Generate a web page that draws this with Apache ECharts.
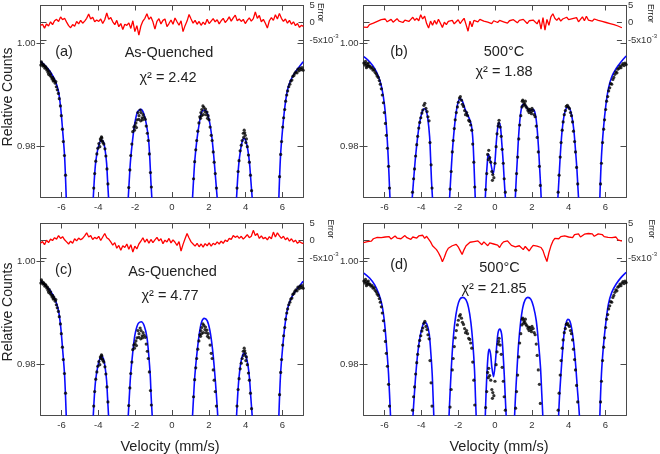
<!DOCTYPE html>
<html><head><meta charset="utf-8">
<script src="https://cdn.jsdelivr.net/npm/echarts@6/dist/echarts.min.js"></script>
<style>html,body{margin:0;padding:0;background:#fff}#c{width:660px;height:454px}</style>
</head><body><div id="c"></div>
<script>
// ---------- tick values ----------
const velocityTicks = [-6, -4, -2, 0, 2, 4, 6];
const countTicks = [0.98, 1.00];
const errorTicks = [-5, 0, 5];

// ---------- measured spectra (velocity mm/s, relative counts) ----------
// As-quenched sample (panels a and c)
const dataAsQuenched = [
[-7.12,0.9958],[-7.09,0.9964],[-7.06,0.9961],[-7.01,0.9956],[-6.98,0.9959],[-6.95,0.9957],[-6.90,0.9952],[-6.87,0.9955],[-6.84,0.9953],[-6.79,0.9948],[-6.76,0.9950],[-6.73,0.9944],[-6.70,0.9940],[-6.67,0.9946],[-6.62,0.9938],[-6.59,0.9941],[-6.56,0.9935],[-6.51,0.9931],[-6.48,0.9934],[-6.45,0.9927],[-6.42,0.9931],[-6.40,0.9928],[-6.34,0.9923],[-6.31,0.9926],[-6.28,0.9916],[-6.23,0.9910],[-6.17,0.9903],[-6.12,0.9893],[-6.06,0.9879],[-6.01,0.9860],[-5.95,0.9834],[-5.90,0.9810],[-5.84,0.9783],[-5.78,0.9745],
[-4.25,0.9720],[-4.20,0.9748],[-4.14,0.9772],[-4.08,0.9786],[-4.03,0.9797],[-3.97,0.9806],[-3.92,0.9800],[-3.89,0.9815],[-3.86,0.9812],[-3.83,0.9819],[-3.81,0.9817],[-3.78,0.9811],[-3.75,0.9808],[-3.70,0.9805],[-3.64,0.9796],[-3.59,0.9782],[-3.53,0.9757],[-3.48,0.9728],
[-2.35,0.9721],[-2.29,0.9755],[-2.24,0.9783],[-2.18,0.9805],[-2.13,0.9829],[-2.07,0.9838],[-2.04,0.9832],[-2.01,0.9841],[-1.96,0.9846],[-1.93,0.9837],[-1.90,0.9852],[-1.85,0.9866],[-1.80,0.9853],[-1.79,0.9860],[-1.73,0.9871],[-1.70,0.9850],[-1.68,0.9866],[-1.62,0.9856],[-1.60,0.9852],[-1.57,0.9862],[-1.51,0.9857],[-1.45,0.9853],[-1.40,0.9840],[-1.34,0.9826],[-1.29,0.9812],[-1.23,0.9786],[-1.17,0.9750],[-1.12,0.9722],
[1.17,0.9738],[1.23,0.9771],[1.29,0.9794],[1.34,0.9812],[1.40,0.9830],[1.46,0.9846],[1.51,0.9858],[1.55,0.9855],[1.57,0.9866],[1.60,0.9860],[1.62,0.9872],[1.68,0.9879],[1.70,0.9862],[1.73,0.9876],[1.79,0.9868],[1.82,0.9873],[1.85,0.9862],[1.90,0.9867],[1.93,0.9855],[1.96,0.9860],[2.01,0.9852],[2.07,0.9838],[2.13,0.9822],[2.18,0.9812],[2.24,0.9790],[2.29,0.9770],[2.35,0.9748],[2.41,0.9720],
[3.53,0.9720],[3.59,0.9752],[3.64,0.9773],[3.70,0.9792],[3.76,0.9803],[3.81,0.9812],[3.87,0.9826],[3.89,0.9818],[3.92,0.9832],[3.95,0.9827],[3.98,0.9822],[4.01,0.9808],[4.04,0.9815],[4.09,0.9800],[4.15,0.9784],[4.20,0.9770],[4.26,0.9745],[4.32,0.9715],
[5.84,0.9742],[5.90,0.9785],[5.95,0.9810],[6.01,0.9838],[6.06,0.9856],[6.12,0.9872],[6.17,0.9888],[6.23,0.9900],[6.28,0.9908],[6.34,0.9916],[6.40,0.9921],[6.45,0.9927],[6.51,0.9929],[6.56,0.9936],[6.62,0.9938],[6.67,0.9942],[6.73,0.9945],[6.79,0.9943],[6.84,0.9950],[6.90,0.9947],[6.95,0.9952],[7.01,0.9949],[7.06,0.9953],[7.12,0.9948]
];
// 500°C sample (panels b and d)
const data500C = [
[-7.12,0.9962],[-7.06,0.9958],[-7.03,0.9965],[-7.01,0.9961],[-6.98,0.9953],[-6.95,0.9956],[-6.90,0.9959],[-6.88,0.9962],[-6.84,0.9955],[-6.79,0.9956],[-6.73,0.9952],[-6.67,0.9953],[-6.62,0.9948],[-6.56,0.9949],[-6.51,0.9944],[-6.45,0.9941],[-6.40,0.9937],[-6.34,0.9934],[-6.28,0.9928],[-6.23,0.9921],[-6.17,0.9912],[-6.12,0.9900],[-6.06,0.9885],[-6.01,0.9866],[-5.95,0.9845],[-5.90,0.9822],[-5.84,0.9797],[-5.78,0.9762],[-5.73,0.9720],
[-4.48,0.9712],[-4.42,0.9738],[-4.37,0.9757],[-4.31,0.9782],[-4.25,0.9804],[-4.20,0.9820],[-4.14,0.9836],[-4.09,0.9847],[-4.03,0.9856],[-3.97,0.9865],[-3.92,0.9871],[-3.86,0.9880],[-3.81,0.9884],[-3.75,0.9874],[-3.69,0.9868],[-3.64,0.9858],[-3.58,0.9850],[-3.53,0.9808],[-3.47,0.9765],[-3.42,0.9720],
[-2.44,0.9718],[-2.38,0.9752],[-2.32,0.9790],[-2.27,0.9812],[-2.21,0.9835],[-2.16,0.9852],[-2.10,0.9866],[-2.04,0.9877],[-1.99,0.9886],[-1.93,0.9894],[-1.88,0.9897],[-1.82,0.9890],[-1.77,0.9882],[-1.71,0.9878],[-1.65,0.9870],[-1.60,0.9862],[-1.54,0.9866],[-1.49,0.9860],[-1.43,0.9851],[-1.37,0.9849],[-1.32,0.9842],[-1.26,0.9832],[-1.21,0.9805],[-1.15,0.9770],[-1.10,0.9722],
[-0.51,0.9717],[-0.45,0.9748],[-0.40,0.9785],[-0.36,0.9775],[-0.34,0.9793],[-0.29,0.9779],[-0.23,0.9770],[-0.17,0.9752],[-0.14,0.9735],[-0.12,0.9746],[-0.06,0.9740],[0.00,0.9768],[0.06,0.9800],[0.11,0.9825],[0.17,0.9840],[0.20,0.9845],[0.22,0.9851],[0.28,0.9838],[0.34,0.9820],[0.39,0.9795],[0.45,0.9768],[0.50,0.9738],[0.56,0.9712],
[1.12,0.9716],[1.17,0.9748],[1.23,0.9780],[1.29,0.9815],[1.34,0.9842],[1.40,0.9860],[1.46,0.9877],[1.48,0.9888],[1.51,0.9890],[1.55,0.9880],[1.57,0.9885],[1.62,0.9882],[1.65,0.9888],[1.68,0.9878],[1.73,0.9875],[1.79,0.9870],[1.83,0.9873],[1.85,0.9866],[1.90,0.9872],[1.96,0.9868],[1.98,0.9864],[2.01,0.9874],[2.07,0.9870],[2.13,0.9862],[2.18,0.9858],[2.24,0.9840],[2.29,0.9818],[2.35,0.9790],[2.41,0.9762],[2.46,0.9725],
[3.43,0.9712],[3.48,0.9745],[3.54,0.9780],[3.59,0.9808],[3.65,0.9832],[3.70,0.9848],[3.76,0.9862],[3.82,0.9870],[3.87,0.9878],[3.93,0.9880],[3.98,0.9877],[4.04,0.9874],[4.10,0.9866],[4.15,0.9860],[4.21,0.9848],[4.26,0.9830],[4.32,0.9810],[4.37,0.9790],[4.43,0.9760],[4.49,0.9728],
[5.73,0.9728],[5.78,0.9768],[5.84,0.9808],[5.90,0.9834],[5.95,0.9852],[6.01,0.9872],[6.06,0.9888],[6.12,0.9897],[6.17,0.9908],[6.23,0.9914],[6.28,0.9922],[6.34,0.9921],[6.40,0.9930],[6.45,0.9934],[6.51,0.9940],[6.56,0.9945],[6.62,0.9943],[6.67,0.9950],[6.73,0.9952],[6.79,0.9956],[6.84,0.9953],[6.90,0.9958],[6.95,0.9961],[7.01,0.9957],[7.06,0.9962],[7.12,0.9959]
];

// ---------- fitted curves, one list per visible arch ----------
const fitA = [
[[-7.12,0.99645],[-6.87,0.99561],[-6.61,0.99451],[-6.36,0.99290],[-6.18,0.99097],[-6.05,0.98774],[-5.94,0.98323],[-5.83,0.97806],[-5.74,0.9698]],
[[-4.28,0.9698],[-4.22,0.97355],[-4.15,0.97677],[-4.04,0.97935],[-3.93,0.98077],[-3.83,0.98129],[-3.72,0.98090],[-3.63,0.97935],[-3.55,0.97677],[-3.50,0.97355],[-3.44,0.9698]],
[[-2.38,0.9698],[-2.32,0.97355],[-2.25,0.97742],[-2.14,0.98129],[-2.02,0.98452],[-1.87,0.98677],[-1.69,0.98722],[-1.55,0.98658],[-1.40,0.98452],[-1.27,0.98129],[-1.20,0.97742],[-1.15,0.97355],[-1.09,0.9698]],
[[1.11,0.9698],[1.17,0.97355],[1.24,0.97742],[1.35,0.98129],[1.48,0.98452],[1.60,0.98658],[1.73,0.98710],[1.88,0.98677],[2.02,0.98516],[2.16,0.98194],[2.27,0.97806],[2.36,0.97419],[2.46,0.9698]],
[[3.50,0.9698],[3.56,0.97355],[3.63,0.97677],[3.72,0.97935],[3.81,0.98097],[3.90,0.98161],[4.01,0.98110],[4.12,0.97935],[4.21,0.97677],[4.28,0.97355],[4.36,0.9698]],
[[5.80,0.9698],[5.89,0.97806],[6.00,0.98323],[6.13,0.98774],[6.27,0.99097],[6.45,0.99290],[6.71,0.99452],[6.94,0.99561],[7.12,0.99645]]
];
const fitB = [
[[-7.12,0.99742],[-6.81,0.99645],[-6.54,0.99516],[-6.32,0.99355],[-6.14,0.99129],[-6.00,0.98806],[-5.89,0.98355],[-5.80,0.97806],[-5.70,0.9698]],
[[-4.50,0.9698],[-4.42,0.97355],[-4.33,0.97742],[-4.22,0.98129],[-4.10,0.98452],[-3.97,0.98658],[-3.86,0.98735],[-3.75,0.98710],[-3.65,0.98548],[-3.55,0.98194],[-3.50,0.97806],[-3.45,0.97355],[-3.39,0.9698]],
[[-2.47,0.9698],[-2.41,0.97355],[-2.34,0.97774],[-2.25,0.98194],[-2.14,0.98581],[-2.02,0.98839],[-1.89,0.98929],[-1.76,0.98871],[-1.64,0.98742],[-1.51,0.98632],[-1.38,0.98529],[-1.27,0.98387],[-1.20,0.98129],[-1.15,0.97742],[-1.11,0.97355],[-1.07,0.9698]],
[[-0.53,0.9698],[-0.48,0.97355],[-0.42,0.97677],[-0.37,0.97858],[-0.30,0.97806],[-0.21,0.97645],[-0.10,0.97471],[-0.01,0.97677],[0.08,0.98129],[0.16,0.98400],[0.23,0.98464],[0.30,0.98374],[0.37,0.98065],[0.45,0.97677],[0.50,0.97355],[0.57,0.9698]],
[[1.10,0.9698],[1.15,0.97355],[1.21,0.97742],[1.28,0.98194],[1.37,0.98581],[1.48,0.98806],[1.60,0.98819],[1.73,0.98755],[1.86,0.98690],[1.97,0.98710],[2.07,0.98723],[2.18,0.98645],[2.27,0.98419],[2.36,0.98000],[2.42,0.97613],[2.47,0.97291],[2.51,0.9698]],
[[3.41,0.9698],[3.47,0.97355],[3.54,0.97806],[3.63,0.98258],[3.74,0.98581],[3.85,0.98729],[3.96,0.98774],[4.07,0.98729],[4.17,0.98594],[4.28,0.98323],[4.37,0.97935],[4.45,0.97549],[4.50,0.97226],[4.54,0.9698]],
[[5.69,0.9698],[5.78,0.97806],[5.89,0.98355],[6.02,0.98806],[6.16,0.99129],[6.34,0.99355],[6.58,0.99516],[6.85,0.99645],[7.12,0.99755]]
];
const fitC = [
[[-7.12,0.99613],[-6.87,0.99529],[-6.61,0.99432],[-6.36,0.99271],[-6.18,0.99077],[-6.05,0.98755],[-5.94,0.98303],[-5.83,0.97787],[-5.74,0.9698]],
[[-4.28,0.9698],[-4.22,0.97368],[-4.15,0.97690],[-4.04,0.97948],[-3.93,0.98103],[-3.83,0.98161],[-3.72,0.98116],[-3.63,0.97948],[-3.55,0.97690],[-3.50,0.97368],[-3.44,0.9698]],
[[-2.38,0.9698],[-2.32,0.97368],[-2.25,0.97787],[-2.14,0.98206],[-2.02,0.98561],[-1.85,0.98787],[-1.67,0.98832],[-1.51,0.98755],[-1.36,0.98529],[-1.26,0.98174],[-1.18,0.97787],[-1.13,0.97368],[-1.07,0.9698]],
[[1.11,0.9698],[1.17,0.97368],[1.24,0.97787],[1.35,0.98206],[1.48,0.98593],[1.60,0.98819],[1.75,0.98897],[1.91,0.98852],[2.06,0.98658],[2.20,0.98303],[2.31,0.97884],[2.40,0.97465],[2.49,0.9698]],
[[3.50,0.9698],[3.56,0.97368],[3.63,0.97723],[3.72,0.98000],[3.81,0.98161],[3.90,0.98226],[4.01,0.98174],[4.12,0.98000],[4.21,0.97723],[4.28,0.97368],[4.36,0.9698]],
[[5.80,0.9698],[5.89,0.97787],[6.00,0.98303],[6.13,0.98755],[6.27,0.99077],[6.45,0.99271],[6.71,0.99432],[6.94,0.99529],[7.12,0.99613]]
];
const fitD = [
[[-7.12,0.99774],[-6.81,0.99677],[-6.54,0.99548],[-6.32,0.99380],[-6.14,0.99161],[-6.00,0.98819],[-5.89,0.98368],[-5.78,0.97819],[-5.67,0.9698]],
[[-4.46,0.9698],[-4.39,0.97368],[-4.30,0.97819],[-4.19,0.98239],[-4.06,0.98561],[-3.93,0.98755],[-3.83,0.98819],[-3.70,0.98787],[-3.57,0.98593],[-3.48,0.98206],[-3.41,0.97819],[-3.36,0.97368],[-3.32,0.9698]],
[[-2.50,0.9698],[-2.45,0.97368],[-2.38,0.97884],[-2.29,0.98400],[-2.18,0.98819],[-2.05,0.99110],[-1.91,0.99264],[-1.75,0.99303],[-1.58,0.99258],[-1.44,0.99110],[-1.31,0.98819],[-1.20,0.98400],[-1.11,0.97884],[-1.06,0.97368],[-1.02,0.9698]],
[[-0.53,0.9698],[-0.48,0.97497],[-0.42,0.97948],[-0.37,0.98206],[-0.32,0.98297],[-0.24,0.98206],[-0.17,0.97948],[-0.08,0.97768],[0.01,0.98013],[0.10,0.98400],[0.17,0.98626],[0.26,0.98690],[0.36,0.98593],[0.43,0.98271],[0.50,0.97819],[0.55,0.97432],[0.61,0.9698]],
[[1.06,0.9698],[1.11,0.97368],[1.19,0.97884],[1.28,0.98400],[1.39,0.98819],[1.51,0.99110],[1.64,0.99258],[1.78,0.99303],[1.95,0.99264],[2.09,0.99123],[2.24,0.98852],[2.36,0.98432],[2.47,0.97948],[2.54,0.97432],[2.60,0.9698]],
[[3.45,0.9698],[3.50,0.97368],[3.58,0.97819],[3.67,0.98271],[3.76,0.98626],[3.87,0.98819],[3.96,0.98877],[4.07,0.98839],[4.17,0.98690],[4.28,0.98400],[4.39,0.97948],[4.48,0.97497],[4.54,0.97239],[4.59,0.9698]],
[[5.69,0.9698],[5.78,0.97819],[5.89,0.98368],[6.02,0.98819],[6.16,0.99174],[6.34,0.99400],[6.58,0.99561],[6.85,0.99690],[7.12,0.99787]]
];

// ---------- fit residuals (x10^-3), channel order across the velocity range ----------
const errA = [-0.8,-0.5,-1.6,-0.4,-1.0,0.2,-0.6,0.5,0.9,0.3,1.6,0.8,1.2,0.1,-0.9,-1.5,-0.6,-1.1,0.3,-0.4,0.6,-0.2,0.4,1.2,2.4,1.0,1.5,0.2,0.7,0.3,1.0,-0.3,0.8,2.7,0.9,1.4,0.2,-0.6,0.6,-1.2,-0.3,-2.0,-0.5,-0.8,-0.1,-1.7,0.5,-2.6,-0.9,-3.6,-1.0,0.4,1.2,2.5,0.9,1.6,0.2,-1.9,0.3,1.1,-0.4,0.6,1.0,-1.2,-0.3,0.7,-0.5,1.3,0.2,-0.8,0.5,-2.6,-0.9,0.4,2.3,1.0,-0.2,0.6,-0.5,0.3,-0.8,0.1,-0.6,0.9,-0.3,0.4,1.1,0.2,0.8,-0.4,0.5,1.2,0.0,0.7,1.6,0.4,1.3,2.1,0.5,1.0,0.3,0.9,-0.3,0.6,1.3,0.4,1.1,3.0,1.2,2.0,0.2,0.9,-0.2,-1.6,0.5,1.4,0.6,2.2,1.0,2.6,1.2,0.3,1.0,-0.2,0.6,-0.5,0.2,-0.9,-0.3,-1.4,-0.8,-1.1];
const errB = [-1.3,-1.0,-1.4,-0.6,-0.9,-0.2,-0.5,0.3,0.0,0.8,0.4,1.0,0.2,0.6,0.9,0.1,0.5,1.1,0.4,0.8,0.0,0.7,1.2,0.3,0.9,1.5,0.6,1.2,0.5,2.2,1.0,1.8,-0.3,-1.6,0.4,-0.8,0.6,-0.5,0.9,-0.2,-1.4,0.1,-0.6,0.3,-0.2,0.6,-0.4,0.2,0.8,-0.3,0.5,1.2,-0.6,-2.5,0.4,-1.2,0.6,1.0,0.2,0.9,1.4,0.4,0.7,0.1,0.6,-0.3,0.5,0.9,0.0,0.6,1.1,0.2,0.7,-0.2,0.5,0.1,0.8,0.3,-0.1,0.6,0.2,0.9,0.4,-0.3,0.5,0.0,0.7,0.3,-0.4,0.8,-1.9,1.4,-2.2,0.9,-0.8,1.6,2.5,1.2,0.6,1.3,0.4,1.0,0.7,1.5,0.8,0.3,1.1,0.6,1.4,0.2,0.9,1.6,0.5,1.8,0.7,1.2,0.4,1.0,1.5,0.6,1.1,0.3,0.8,0.0,0.5,-0.3,0.2,-0.6,-0.2,-1.0,-0.7,-1.5];
const errC = [-0.8,-0.3,-1.2,0.1,-0.6,0.4,0.0,0.8,0.4,1.4,0.6,1.1,0.2,-0.4,-1.0,-0.2,-0.8,0.5,-0.1,0.7,0.2,0.6,1.3,2.2,1.0,1.4,0.3,0.9,0.5,1.2,0.0,1.0,2.0,0.8,0.4,-0.4,-1.3,-0.6,-2.2,-1.4,-2.8,-1.5,-2.0,-1.0,-2.5,-1.2,-3.3,-1.6,-2.4,-1.0,-0.2,0.8,-0.5,0.4,-0.8,0.3,-0.6,0.2,0.9,-0.1,0.5,-0.9,0.1,-0.4,0.6,-0.7,0.2,-0.5,-1.4,-0.3,-3.0,-1.1,0.5,2.0,0.7,-0.4,-1.0,-1.6,-0.8,-1.8,-1.0,-1.9,-0.9,-1.5,-0.7,-1.6,-0.8,-1.2,-0.4,-1.0,-0.2,-0.8,0.1,-0.3,0.6,0.3,1.4,0.9,1.3,0.6,1.2,0.4,1.0,1.7,0.8,1.2,2.9,1.4,2.0,0.6,1.3,0.5,0.9,0.2,1.1,0.5,2.4,1.0,2.2,1.3,0.6,1.2,0.2,0.8,-0.2,0.5,-0.4,0.1,-0.8,-0.3,-0.7,-0.9];
const errD = [-0.6,-0.9,-0.3,0.1,-0.2,0.5,0.3,0.9,1.2,0.8,1.3,1.0,0.6,1.1,0.4,0.9,1.3,0.7,1.2,0.5,1.0,1.4,0.8,1.1,0.3,1.0,1.2,0.7,1.3,0.9,1.5,0.6,1.2,0.8,-0.4,-1.5,-1.2,-2.6,-3.5,-4.6,-6.1,-4.8,-3.2,-2.2,-2.6,-1.5,-1.9,-1.1,-1.8,-2.9,-4.0,-2.6,-1.5,-1.1,-0.5,-0.9,-0.3,-0.8,-0.1,-0.6,-1.2,-0.4,-0.9,-1.5,-0.7,-0.3,-1.0,-0.5,-1.3,-2.0,-1.0,-0.4,-0.9,-0.1,-0.6,-1.4,-1.1,-1.8,-2.3,-1.5,-2.0,-2.6,-1.7,-2.2,-3.0,-2.1,-1.4,-0.9,-1.6,-1.2,-2.0,-2.9,-4.6,-6.0,-3.5,-1.6,-0.2,0.6,1.0,0.5,1.1,0.7,1.3,0.9,1.0,1.4,0.8,1.7,1.2,1.9,1.0,1.5,1.8,1.3,2.0,1.5,1.9,1.2,1.6,1.9,1.4,1.7,1.1,1.5,0.9,1.3,0.8,0.5,1.0,0.2,0.4,-0.2];

// ---------- panel texts ----------
const panelLetters = ['(a)', '(b)', '(c)', '(d)'];
const panelSamples = ['As-Quenched', '500°C', 'As-Quenched', '500°C'];
const panelChi = ['χ² = 2.42', 'χ² = 1.88', 'χ² = 4.77', 'χ² = 21.85'];

const panels = [
  {data: dataAsQuenched, fit: fitA, err: errA},
  {data: data500C, fit: fitB, err: errB},
  {data: dataAsQuenched, fit: fitC, err: errC},
  {data: data500C, fit: fitD, err: errD}
];

// ---------- layout ----------
const FONT = '"Liberation Sans", Arial, sans-serif';
const FRAME = '#4a4a4a';
const TXT = '#222';
const layout = [
  {left: 40.5, top: 5.5, letter: [64, 52], sample: [169, 53], chi: [168, 78], err: [320, 12.5]},
  {left: 363.5, top: 5.5, letter: [399, 52], sample: [504, 52], chi: [504, 72], err: [650, 13.5]},
  {left: 40.5, top: 223.5, letter: [63.5, 270], sample: [172.5, 271.5], chi: [170, 296], err: [330, 229]},
  {left: 363.5, top: 223.5, letter: [399, 265], sample: [499.5, 268], chi: [494, 288.5], err: [651, 229]}
];
const W = 263, H = 191.5, EH = 35;
const xMin = -7.14, xMax = 7.14, yMin = 0.97027, yMax = 1.00732;

const grid = [], xAxis = [], yAxis = [], series = [], graphic = [];
const lbl = {fontFamily: FONT, fontSize: 9.5, color: '#333'};
const line = (show) => ({show: show, onZero: false, lineStyle: {color: FRAME, width: 1}});

panels.forEach((p, i) => {
  const L = layout[i];
  const gMain = grid.length;
  grid.push({left: L.left, top: L.top, width: W, height: H});
  const gErr = grid.length;
  grid.push({left: L.left, top: L.top - 0.5, width: W, height: EH});

  const xb = xAxis.length;
  xAxis.push({gridIndex: gMain, type: 'value', min: xMin, max: xMax, position: 'bottom',
    axisLine: line(true),
    axisTick: {show: true, inside: true, length: 5, customValues: velocityTicks, lineStyle: {color: FRAME}},
    axisLabel: Object.assign({show: true, customValues: velocityTicks, margin: 5}, lbl),
    splitLine: {show: false}});
  xAxis.push({gridIndex: gMain, type: 'value', min: xMin, max: xMax, position: 'top',
    axisLine: line(true),
    axisTick: {show: true, inside: true, length: 5, customValues: velocityTicks, lineStyle: {color: FRAME}},
    axisLabel: {show: false}, splitLine: {show: false}});
  const xe = xAxis.length;
  xAxis.push({gridIndex: gErr, type: 'category', data: p.err.map((_, k) => k), boundaryGap: false, show: false,
    axisLine: {show: false, onZero: false}});

  const yl = yAxis.length;
  yAxis.push({gridIndex: gMain, type: 'value', min: yMin, max: yMax, position: 'left',
    axisLine: line(true),
    axisTick: {show: true, inside: false, length: 4, customValues: countTicks, lineStyle: {color: FRAME}},
    axisLabel: Object.assign({show: true, customValues: countTicks, margin: 5, formatter: v => v.toFixed(2)}, lbl),
    splitLine: {show: false}});
  yAxis.push({gridIndex: gMain, type: 'value', min: yMin, max: yMax, position: 'left',
    axisLine: line(false),
    axisTick: {show: true, inside: true, length: 4, customValues: countTicks, lineStyle: {color: FRAME}},
    axisLabel: {show: false}, splitLine: {show: false}});
  yAxis.push({gridIndex: gMain, type: 'value', min: yMin, max: yMax, position: 'right',
    axisLine: line(true),
    axisTick: {show: true, inside: true, length: 6, customValues: countTicks, lineStyle: {color: FRAME}},
    axisLabel: {show: false}, splitLine: {show: false}});
  const ye = yAxis.length;
  yAxis.push({gridIndex: gErr, type: 'value', min: -5, max: 5, position: 'right',
    axisLine: line(false),
    axisTick: {show: true, inside: true, length: 5, customValues: errorTicks, lineStyle: {color: FRAME}},
    axisLabel: Object.assign({show: true, customValues: errorTicks, margin: 6,
      formatter: v => { const r = Math.round(v); return r === 5 ? '5' : r === 0 ? '0' : '-5x10{s|-3}'; },
      rich: {s: {fontSize: 6, fontFamily: FONT, color: '#333', padding: [0, 0, 7, 0]}}}, lbl),
    splitLine: {show: false}});
  yAxis.push({gridIndex: gErr, type: 'value', min: -5, max: 5, position: 'left',
    axisLine: line(false),
    axisTick: {show: true, inside: true, length: 6, customValues: errorTicks, lineStyle: {color: FRAME}},
    axisLabel: {show: false}, splitLine: {show: false}});

  // fit curve: arches joined with gaps
  const fitData = [];
  p.fit.forEach((arch, k) => {
    if (k > 0) fitData.push([arch[0][0], null]);
    arch.forEach(pt => fitData.push(pt));
  });
  series.push({type: 'line', xAxisIndex: xb, yAxisIndex: yl, data: fitData, connectNulls: false,
    showSymbol: false, symbol: 'none', smooth: 0.3, clip: true, silent: true, z: 2,
    lineStyle: {color: '#0b0bff', width: 1.6}});
  series.push({type: 'scatter', xAxisIndex: xb, yAxisIndex: yl, data: p.data, symbol: 'circle', symbolSize: 3.2,
    clip: true, silent: true, z: 3, itemStyle: {color: '#000'}});
  series.push({type: 'line', xAxisIndex: xe, yAxisIndex: ye, data: p.err, showSymbol: false, symbol: 'none',
    clip: false, silent: true, z: 4, lineStyle: {color: '#ff0000', width: 1.3}});

  const t = (x, y, text, size, rot) => graphic.push({type: 'text', x: x, y: y, rotation: rot || 0,
    style: {text: text, fontSize: size, fontFamily: FONT, fill: TXT, textAlign: 'center', align: 'center',
      textVerticalAlign: 'middle', verticalAlign: 'middle'}});
  t(L.letter[0], L.letter[1], panelLetters[i], 14.5);
  t(L.sample[0], L.sample[1], panelSamples[i], 14.5);
  t(L.chi[0], L.chi[1], panelChi[i], 14.5);
  t(L.err[0], L.err[1], 'Error', 8.5, -Math.PI / 2);
});

const tt = (x, y, text, size, rot) => graphic.push({type: 'text', x: x, y: y, rotation: rot || 0,
  style: {text: text, fontSize: size, fontFamily: FONT, fill: TXT, textAlign: 'center', align: 'center',
    textVerticalAlign: 'middle', verticalAlign: 'middle'}});
tt(8, 97, 'Relative Counts', 14, Math.PI / 2);
tt(8, 312, 'Relative Counts', 14, Math.PI / 2);
tt(170, 447, 'Velocity (mm/s)', 14.5);
tt(499, 447, 'Velocity (mm/s)', 14.5);

const chart = echarts.init(document.getElementById('c'), null, {renderer: 'canvas'});
chart.setOption({animation: false, backgroundColor: '#fff', grid, xAxis, yAxis, series, graphic});
</script></body></html>
